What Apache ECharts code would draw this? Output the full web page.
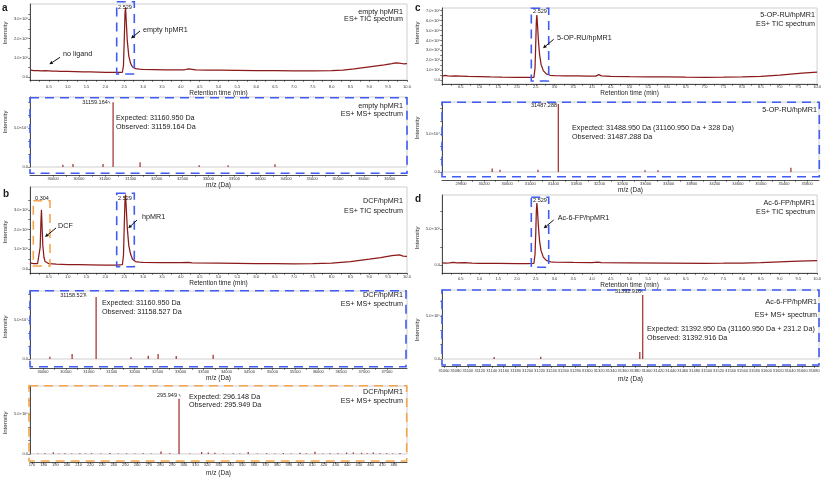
<!DOCTYPE html>
<html>
<head>
<meta charset="utf-8">
<script src="https://cdn.jsdelivr.net/npm/echarts@6/dist/echarts.min.js"></script>
<style>
  html, body { margin: 0; padding: 0; background: #fff; }
  #chart { width: 824px; height: 480px; }
</style>
</head>
<body>
<div id="chart"></div>
<script>
// ---- tick labels ----
const timeTicks = [0.5, 1.0, 1.5, 2.0, 2.5, 3.0, 3.5, 4.0, 4.5, 5.0, 5.5, 6.0, 6.5, 7.0, 7.5, 8.0, 8.5, 9.0, 9.5, 10.0];
const massTicksA = [30000, 30500, 31000, 31500, 32000, 32500, 33000, 33500, 34000, 34500, 35000, 35500, 36000, 36500];
const massTicksB = [30000, 30500, 31000, 31500, 32000, 32500, 33000, 33500, 34000, 34500, 35000, 35500, 36000, 36500, 37000, 37500];
const massTicksDCF = [170, 180, 190, 200, 210, 220, 230, 240, 250, 260, 270, 280, 290, 300, 310, 320, 330, 340, 350, 360, 370, 380, 390, 400, 410, 420, 430, 440, 450, 460, 470, 480];
const massTicksC = [29800, 30200, 30600, 31000, 31400, 31800, 32200, 32600, 33000, 33400, 33800, 34200, 34600, 35000, 35400, 35800];
const massTicksD = [31060, 31080, 31100, 31120, 31140, 31160, 31180, 31200, 31220, 31240, 31260, 31280, 31300, 31320, 31340, 31360, 31380, 31400, 31420, 31440, 31460, 31480, 31500, 31520, 31540, 31560, 31580, 31600, 31620, 31640, 31660, 31680];
const yLabelsTicA = [0, 1, 2, 3];
const yLabelsTicB = [0, 1, 2, 3];
const yLabelsTicC = [0, 1, 2, 3, 4, 5, 6, 7];
const yLabelsTicD = [0, 5];
const yLabelsMS = [0, 5];

// ---- TIC traces: [retention time (min), intensity (x10^6)] ----
const ticA = [[0.02,0.36],[0.1,0.34],[0.2,0.33],[0.3,0.32],[0.4,0.33],[0.5,0.32],[0.6,0.31],[0.7,0.31],[0.8,0.3],[1.0,0.29],[1.2,0.28],[1.4,0.27],[1.6,0.27],[1.8,0.26],[2.0,0.25],[2.2,0.25],[2.35,0.24],[2.45,0.25],[2.48,0.6],[2.5,1.9],[2.52,3.3],[2.535,3.6],[2.55,3.0],[2.58,1.9],[2.62,1.1],[2.67,0.7],[2.72,0.52],[2.8,0.44],[2.9,0.41],[3.0,0.4],[3.3,0.39],[3.6,0.38],[3.9,0.38],[4.1,0.38],[4.2,0.42],[4.25,0.4],[4.4,0.37],[4.7,0.36],[5.0,0.36],[5.5,0.35],[6.0,0.34],[6.5,0.33],[7.0,0.32],[7.5,0.32],[8.0,0.33],[8.3,0.36],[8.6,0.42],[8.9,0.5],[9.2,0.58],[9.4,0.63],[9.6,0.7],[9.7,0.74],[9.8,0.72],[9.9,0.69],[10.0,0.7]];
const ticB = [[0.02,0.3],[0.1,0.28],[0.2,0.27],[0.25,0.35],[0.27,1.1],[0.29,2.4],[0.304,3.0],[0.32,2.2],[0.34,1.2],[0.37,0.6],[0.4,0.38],[0.45,0.3],[0.5,0.27],[0.7,0.25],[1.0,0.23],[1.3,0.22],[1.6,0.21],[2.0,0.2],[2.3,0.2],[2.45,0.22],[2.48,0.7],[2.5,2.2],[2.52,3.5],[2.535,3.78],[2.55,3.2],[2.58,2.1],[2.62,1.2],[2.67,0.75],[2.72,0.5],[2.8,0.38],[2.9,0.35],[3.0,0.34],[3.5,0.33],[4.0,0.32],[4.2,0.34],[4.3,0.31],[5.0,0.3],[5.5,0.29],[6.0,0.28],[6.5,0.27],[7.0,0.26],[7.5,0.27],[8.0,0.3],[8.5,0.38],[9.0,0.5],[9.3,0.58],[9.6,0.68],[9.8,0.72],[9.9,0.66],[10.0,0.64]];
const ticC = [[0.02,0.4],[0.08,0.46],[0.15,0.42],[0.2,0.36],[0.25,0.4],[0.35,0.42],[0.5,0.4],[0.7,0.37],[1.0,0.34],[1.3,0.31],[1.6,0.29],[2.0,0.27],[2.3,0.26],[2.45,0.27],[2.48,1.2],[2.5,3.8],[2.515,5.9],[2.529,6.55],[2.545,5.6],[2.57,4.0],[2.6,2.6],[2.64,1.6],[2.7,0.95],[2.78,0.62],[2.88,0.48],[3.0,0.44],[3.3,0.42],[3.6,0.41],[3.9,0.4],[4.1,0.4],[4.18,0.55],[4.25,0.42],[4.5,0.38],[5.0,0.35],[5.5,0.33],[6.0,0.31],[6.5,0.29],[7.0,0.28],[7.5,0.29],[8.0,0.31],[8.5,0.38],[9.0,0.5],[9.3,0.6],[9.6,0.7],[9.8,0.76],[10.0,0.8]];
const ticD = [[0.02,0.3],[0.1,0.28],[0.2,0.3],[0.3,0.38],[0.4,0.3],[0.6,0.33],[0.8,0.28],[1.0,0.25],[1.5,0.22],[2.0,0.2],[2.3,0.2],[2.45,0.22],[2.48,1.5],[2.5,4.5],[2.515,7.5],[2.529,8.6],[2.545,7.6],[2.57,5.4],[2.6,3.4],[2.64,2.0],[2.7,1.1],[2.78,0.65],[2.9,0.45],[3.0,0.4],[3.5,0.36],[4.0,0.34],[4.15,0.4],[4.25,0.33],[5.0,0.3],[6.0,0.27],[7.0,0.25],[7.5,0.26],[8.0,0.28],[8.5,0.35],[9.0,0.45],[9.5,0.55],[10.0,0.62]];

// ---- deconvoluted MS spectra: [mass (Da), intensity] ----
const msA = [[30190,0.3],[30385,0.38],[30965,0.38],[31159.164,8.3],[31680,0.6],[32820,0.21],[33380,0.21],[34285,0.34]];
const msB = [[30150,0.3],[30635,0.65],[31158.527,7.95],[31920,0.22],[32295,0.43],[32510,0.65],[32905,0.4],[33710,0.55]];
const msDCF = [[175,0.06],[181,0.08],[188.3,0.2],[193,0.06],[198.3,0.1],[204,0.05],[211,0.08],[216,0.06],[221,0.1],[229,0.05],[236.8,0.12],[244,0.06],[251,0.08],[258,0.05],[265.3,0.1],[272,0.06],[280.5,0.3],[288,0.08],[295.949,6.9],[305,0.06],[315.3,0.25],[321,0.18],[326.7,0.15],[334,0.07],[342.4,0.1],[348,0.06],[355.2,0.25],[363,0.06],[371,0.1],[378,0.07],[385.3,0.12],[392,0.06],[399.5,0.15],[405,0.08],[412.4,0.28],[419,0.07],[425.2,0.1],[432,0.08],[439.5,0.18],[445.2,0.2],[452.3,0.15],[457,0.1],[462.3,0.18],[468,0.08],[473.8,0.1],[479,0.07],[485.2,0.12]];
const msC = [[30340,0.45],[30475,0.3],[31135,0.3],[31487.288,8.95],[32990,0.22],[33215,0.22],[35520,0.55]];
const msD = [[31144,0.23],[31222,0.27],[31388,0.8],[31392.916,7.45]];

const FONT = 'Liberation Sans, Arial, sans-serif';
const TRACE = '#8c1a1a';
const BAR = '#a73a3a';
const BLUE = '#3f5cf4';
const ORANGE = '#f5a54c';

function withMid(arr) {
  const out = [];
  arr.forEach((v, i) => {
    if (i > 0) out.push((arr[i - 1] + v) / 2);
    out.push(v);
  });
  return out;
}
const sup6 = v => v === 0 ? '0.0' : v.toFixed(1) + '×10⁶';
const sup4 = v => v === 0 ? '0.0' : v.toFixed(1) + '×10⁴';
const sup5 = v => v === 0 ? '0.0' : v.toFixed(1) + '×10⁵';
const msYTicks = [0, 5 / 3, 10 / 3, 5, 20 / 3, 25 / 3];

const panels = [
  { kind: 'tic', grid: [30, 4, 377, 76], x: [0, 10], xl: timeTicks, xt: withMid([0].concat(timeTicks)), off: 0, lm: 5, gap: 7, y: [-0.15, 3.78], yl: yLabelsTicA, yt: withMid(yLabelsTicA.concat([3.5])).slice(0, -1), yf: sup6, data: ticA },
  { kind: 'ms', grid: [30, 97, 377, 70], x: [29555, 36833], xl: massTicksA, xt: withMid(massTicksA), off: 8, lm: 2, gap: 7, y: [0, 8.97], yl: yLabelsMS, yt: msYTicks, yf: sup4, data: msA },
  { kind: 'tic', grid: [30, 187, 377, 86], x: [0, 10], xl: timeTicks, xt: withMid([0].concat(timeTicks)), off: 0, lm: 2, gap: 7, y: [-0.2, 4.16], yl: yLabelsTicB, yt: withMid(yLabelsTicB.concat([4])).slice(0, -1), yf: sup6, data: ticB },
  { kind: 'ms', grid: [30, 291, 377, 68], x: [29717, 37936], xl: massTicksB, xt: withMid(massTicksB), off: 9, lm: 2, gap: 6, y: [0, 8.72], yl: yLabelsMS, yt: msYTicks, yf: sup4, data: msB },
  { kind: 'ms', grid: [30, 386, 377, 68], x: [168.3, 491.2], xl: massTicksDCF, xt: massTicksDCF, off: 8, lm: 1, gap: 8, y: [0, 8.5], yl: yLabelsMS, yt: msYTicks, yf: sup5, data: msDCF },
  { kind: 'tic', grid: [442, 8, 377, 76], x: [0, 10], xl: timeTicks, xt: withMid([0].concat(timeTicks)), off: 0, lm: 1, gap: 4, y: [-0.4, 7.27], yl: yLabelsTicC, yt: withMid(yLabelsTicC), yf: sup6, data: ticC },
  { kind: 'ms', grid: [442, 102, 377, 70], x: [29470, 36007], xl: massTicksC, xt: withMid(massTicksC), off: 8, lm: 2, gap: 6, y: [0, 9.2], yl: yLabelsMS, yt: msYTicks, yf: sup4, data: msC },
  { kind: 'tic', grid: [442, 195, 377, 78], x: [0, 10], xl: timeTicks, xt: withMid([0].concat(timeTicks)), off: 0, lm: 4, gap: 7, y: [-1.1, 9.72], yl: yLabelsTicD, yt: [0, 2.5, 5, 7.5], yf: sup6, data: ticD },
  { kind: 'ms', grid: [442, 290, 377, 69], x: [31056.6, 31688.3], xl: massTicksD, xt: massTicksD, off: 7, lm: 3, gap: 10, y: [0, 8.02], yl: yLabelsMS, yt: msYTicks, yf: sup5, data: msD }
];

const grids = [], xAxes = [], yAxes = [], series = [];
panels.forEach((p, i) => {
  grids.push({ left: p.grid[0], top: p.grid[1], width: p.grid[2], height: p.grid[3], show: true, borderColor: '#cfcfcf', borderWidth: 1, containLabel: false });
  xAxes.push({
    type: 'value', gridIndex: i, min: p.x[0], max: p.x[1], offset: p.off,
    name: p.kind === 'tic' ? 'Retention time (min)' : 'm/z (Da)',
    nameLocation: 'middle', nameGap: p.gap,
    nameTextStyle: { fontSize: 6.5, color: '#222', fontFamily: FONT, verticalAlign: 'top' },
    axisLine: { onZero: false, lineStyle: { color: '#222', width: 0.8 } },
    axisTick: { customValues: p.xt, length: 1.8, lineStyle: { color: '#222', width: 0.6 } },
    axisLabel: {
      customValues: p.xl, fontSize: 4, margin: p.lm, color: '#333', fontFamily: FONT,
      formatter: v => p.kind === 'tic' ? v.toFixed(1) : String(v)
    },
    splitLine: { show: false }
  });
  yAxes.push({
    type: 'value', gridIndex: i, min: p.y[0], max: p.y[1],
    axisLine: { show: true, lineStyle: { color: '#222', width: 0.8 } },
    axisTick: { show: true, customValues: p.yt, length: 1.8, lineStyle: { color: '#222', width: 0.6 } },
    axisLabel: { customValues: p.yl, fontSize: 4, margin: 2, color: '#333', fontFamily: FONT, formatter: p.yf },
    splitLine: { show: false }
  });
  if (p.kind === 'tic') {
    series.push({ type: 'line', xAxisIndex: i, yAxisIndex: i, data: p.data, showSymbol: false, silent: true, lineStyle: { color: TRACE, width: 1.25 } });
  } else {
    series.push({ type: 'bar', xAxisIndex: i, yAxisIndex: i, data: p.data, barWidth: 1.3, silent: true, itemStyle: { color: BAR } });
  }
});

// ---- annotations ----
const G = [];
function txt(x, y, s, size, align, weight) {
  G.push({ type: 'text', x: x, y: y, z: 100, silent: true, style: {
    text: s, x: 0, y: 0, fill: '#1a1a1a', fontSize: size, fontFamily: FONT, fontWeight: weight || 'normal',
    textAlign: align || 'left', align: align || 'left', textVerticalAlign: 'middle', verticalAlign: 'middle'
  } });
}
function vtxt(x, y, s) {
  G.push({ type: 'text', x: x, y: y, rotation: Math.PI / 2, z: 100, silent: true, style: {
    text: s, x: 0, y: 0, fill: '#1a1a1a', fontSize: 6.2, fontFamily: FONT,
    textAlign: 'center', align: 'center', textVerticalAlign: 'middle', verticalAlign: 'middle'
  } });
}
function box(x1, y1, x2, y2, color) {
  G.push({ type: 'rect', z: 90, silent: true, shape: { x: x1, y: y1, width: x2 - x1, height: y2 - y1 },
    style: { fill: 'none', stroke: color, lineWidth: 1.6, lineDash: [9, 6] } });
}
function tick(x1, y1, x2, y2) {
  G.push({ type: 'line', z: 100, silent: true, shape: { x1: x1, y1: y1, x2: x2, y2: y2 }, style: { stroke: '#222', lineWidth: 0.6 } });
}
function arrow(x1, y1, x2, y2) {
  const a = Math.atan2(y2 - y1, x2 - x1), L = 3.6, W = 1.8;
  const bx = x2 - L * Math.cos(a), by = y2 - L * Math.sin(a);
  G.push({ type: 'line', z: 100, silent: true, shape: { x1: x1, y1: y1, x2: bx, y2: by }, style: { stroke: '#111', lineWidth: 1 } });
  G.push({ type: 'polygon', z: 100, silent: true, shape: { points: [[x2, y2], [bx + W * Math.sin(a), by - W * Math.cos(a)], [bx - W * Math.sin(a), by + W * Math.cos(a)]] }, style: { fill: '#111' } });
}

// panel letters
txt(2, 8, 'a', 10, 'left', 'bold');
txt(3, 194, 'b', 10, 'left', 'bold');
txt(415, 8, 'c', 10, 'left', 'bold');
txt(415, 199, 'd', 10, 'left', 'bold');

// y names
vtxt(5, 33, 'Intensity');
vtxt(5, 122, 'Intensity');
vtxt(5, 232, 'Intensity');
vtxt(5, 327, 'Intensity');
vtxt(5, 423, 'Intensity');
vtxt(417, 33, 'Intensity');
vtxt(417, 128, 'Intensity');
vtxt(417, 238, 'Intensity');
vtxt(417, 330, 'Intensity');

// a
box(116.7, 1.7, 134.3, 74, BLUE);
txt(125, 7, '2.529', 5.5, 'center');
txt(143, 30, 'empty hpMR1', 7.2);
arrow(140, 31, 131, 38.5);
txt(63, 54, 'no ligand', 7.2);
arrow(60, 57.3, 49.3, 64.3);
txt(403, 12, 'empty hpMR1', 7.2, 'right');
txt(403, 19.5, 'ES+ TIC spectrum', 7.2, 'right');
box(30, 97.7, 407, 173.3, BLUE);
txt(95, 102, '31159.164', 5.5, 'center');
tick(108.5, 101, 110, 103.5);
txt(116, 118, 'Expected: 31160.950 Da', 7.2);
txt(116, 127, 'Observed: 31159.164 Da', 7.2);
txt(403, 106, 'empty hpMR1', 7.2, 'right');
txt(403, 114, 'ES+ MS+ spectrum', 7.2, 'right');

// b
box(33.3, 200.7, 50, 266, ORANGE);
box(116.7, 193.3, 134.3, 266.7, BLUE);
txt(42, 198, '0.304', 5.5, 'center');
txt(125, 198, '2.529', 5.5, 'center');
txt(58, 226, 'DCF', 7.2);
arrow(56, 228, 45, 237);
txt(142, 217, 'hpMR1', 7.2);
arrow(137, 220, 128.3, 228.3);
txt(403, 201.5, 'DCF/hpMR1', 7.2, 'right');
txt(403, 211.5, 'ES+ TIC spectrum', 7.2, 'right');
box(30, 290.7, 406, 366.7, BLUE);
txt(73, 295, '31158.527', 5.5, 'center');
tick(85, 294, 86.3, 296.5);
txt(102, 303.3, 'Expected: 31160.950 Da', 7.2);
txt(102, 312.3, 'Observed: 31158.527 Da', 7.2);
txt(403, 295, 'DCF/hpMR1', 7.2, 'right');
txt(403, 304, 'ES+ MS+ spectrum', 7.2, 'right');
box(29, 385.7, 406.7, 461, ORANGE);
txt(167, 395, '295.949', 5.5, 'center');
tick(179, 394, 180.3, 396.5);
txt(189, 396.7, 'Expected: 296.148 Da', 7.2);
txt(189, 405, 'Observed: 295.949 Da', 7.2);
txt(403, 391.7, 'DCF/hpMR1', 7.2, 'right');
txt(403, 401, 'ES+ MS+ spectrum', 7.2, 'right');

// c
box(531.3, 8.3, 548.7, 81, BLUE);
txt(540, 11, '2.529', 5.5, 'center');
txt(557, 37.7, '5-OP-RU/hpMR1', 7.2);
arrow(553.7, 39.3, 543, 48.3);
txt(815, 15, '5-OP-RU/hpMR1', 7.2, 'right');
txt(815, 24.3, 'ES+ TIC spectrum', 7.2, 'right');
box(442, 102.3, 819.3, 176.7, BLUE);
txt(544, 105.7, '31487.288', 5.5, 'center');
txt(817, 110, '5-OP-RU/hpMR1', 7.2, 'right');
txt(572, 128.3, 'Expected: 31488.950 Da (31160.950 Da + 328 Da)', 7.2);
txt(572, 137.3, 'Observed: 31487.288 Da', 7.2);

// d
box(531.3, 197.3, 548.7, 267.3, BLUE);
txt(540, 200, '2.529', 5.5, 'center');
txt(557.7, 217.7, 'Ac-6-FP/hpMR1', 7.2);
arrow(553.7, 220, 543.7, 228.3);
txt(815, 203.3, 'Ac-6-FP/hpMR1', 7.2, 'right');
txt(815, 212.3, 'ES+ TIC spectrum', 7.2, 'right');
box(442, 290, 819, 365, BLUE);
txt(628, 291, '31392.916', 5.5, 'center');
tick(641, 290, 642.3, 292.5);
txt(817, 301.7, 'Ac-6-FP/hpMR1', 7.2, 'right');
txt(817, 315, 'ES+ MS+ spectrum', 7.2, 'right');
txt(647, 329.3, 'Expected: 31392.950 Da (31160.950 Da + 231.2 Da)', 7.2);
txt(647, 338.3, 'Observed: 31392.916 Da', 7.2);

const chart = echarts.init(document.getElementById('chart'), null, { renderer: 'canvas' });
chart.setOption({
  animation: false,
  backgroundColor: '#fff',
  textStyle: { fontFamily: FONT },
  grid: grids,
  xAxis: xAxes,
  yAxis: yAxes,
  series: series,
  graphic: G
});
</script>
</body>
</html>
